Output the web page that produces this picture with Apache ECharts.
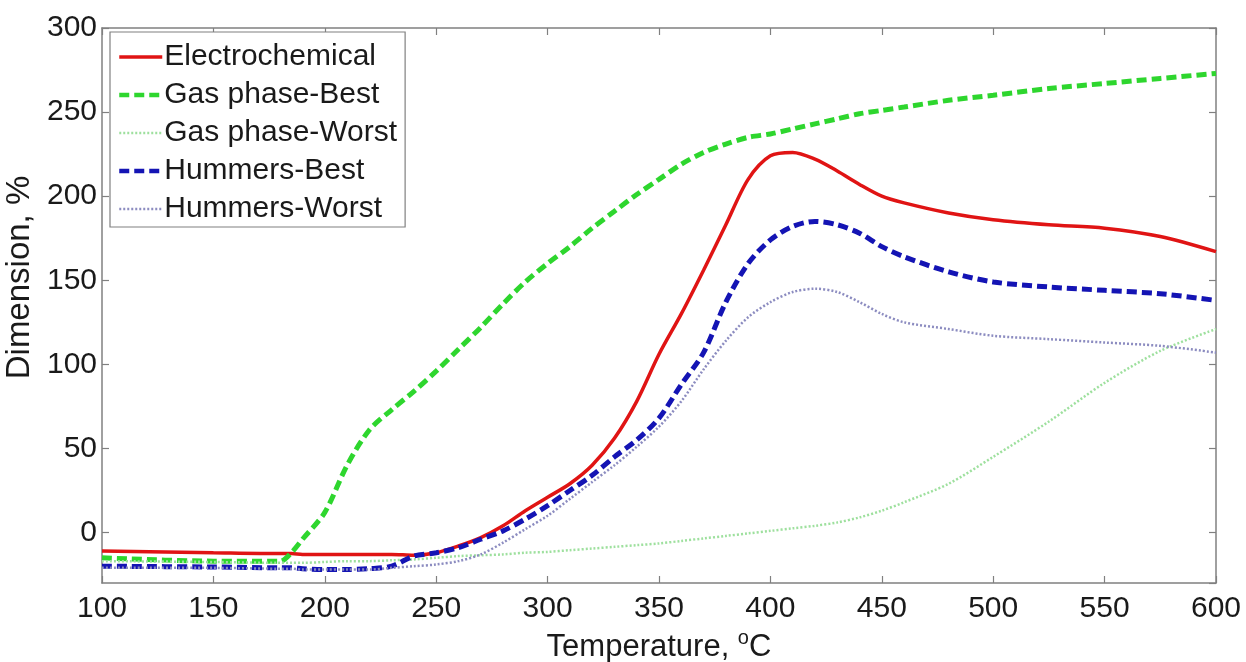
<!DOCTYPE html>
<html>
<head>
<meta charset="utf-8">
<script src="https://cdn.jsdelivr.net/npm/echarts@6/dist/echarts.min.js"></script>
<style>
  html, body { margin: 0; padding: 0; background: #fff; }
  #chart { width: 1246px; height: 662px; }
</style>
</head>
<body>
<div id="chart"></div>
<script>
// Temperature samples (°C) shared by every curve
const temps = [100,150,180,185,190,200,210,220,230,240,250,260,270,280,290,300,310,320,330,340,350,360,370,380,390,400,410,420,430,440,450,460,480,500,525,550,575,600];

// Dimension change (%) per sample
const electrochemical = [-11,-12,-12.5,-12.5,-13,-13,-13,-13,-13,-13.5,-12,-8,-3,4,13,21,29,40,56,78,106,130,156,183,210,224,226,222,215,207,200,196,190,186,183,181,176,167];
const gasBest = [-15,-17,-17,-12,-4,12,40,61,73,84,96,109,122,136,149,160,170,181,191,201,210,219,226,231,235,237,240,243,246,249,251,253,257,260,264,267,270,273];
const gasWorst = [-17,-17.5,-18,-18,-18,-17.5,-17,-17,-16.5,-16,-15,-14,-13.5,-13,-12,-11.5,-10.5,-9.5,-8.5,-7.5,-6.5,-5,-3.5,-2,-0.5,1,2.5,4,6,9,13,18,29,45,66,89,108,121];
const hummersBest = [-20,-20.5,-21,-21,-21.5,-22,-22,-21.5,-20,-14,-12,-9,-4,1,8,16,25,34,45,55,68,88,107,137,160,174,182,185,183,178,170,164,155,149,146,144,142,138];
const hummersWorst = [-21,-21,-21.5,-21.5,-22,-22,-22,-22,-21,-20,-19,-17,-13,-6,2,10,20,30,40,51,63,78,97,114,128,137,143,145,143,137,130,125,121,117,115,113,111,107];

const seriesNames = ['Electrochemical', 'Gas phase-Best', 'Gas phase-Worst', 'Hummers-Best', 'Hummers-Worst'];
const xTicks = { min: 100, max: 600, step: 50 };
const yRange = { min: -30, max: 300 };

const pairs = vals => temps.map((t, i) => [t, vals[i]]);

const FONT = 'Liberation Sans, Arial, sans-serif';
const FRAME = '#808080';
const TEXT = '#1a1a1a';

const styles = [
  { color: '#e01414', width: 3.5, type: 'solid' },
  { color: '#2ed62e', width: 5, type: [10, 5] },
  { color: '#9ee09e', width: 2.5, type: [2, 2] },
  { color: '#1414b4', width: 5, type: [10, 5] },
  { color: '#8c8cc0', width: 2.5, type: [2, 2] }
];

const dataSets = [electrochemical, gasBest, gasWorst, hummersBest, hummersWorst];

const chart = echarts.init(document.getElementById('chart'), null, { renderer: 'canvas' });

// Mirror axes on the top and right close the frame with inward ticks only
const mirrorAxis = {
  axisLine: { show: true, onZero: false, lineStyle: { color: FRAME, width: 1.5 } },
  axisTick: { show: true, inside: true, length: 7, lineStyle: { color: FRAME, width: 1.2 } },
  axisLabel: { show: false },
  splitLine: { show: false }
};

chart.setOption({
  animation: false,
  backgroundColor: '#ffffff',
  textStyle: { fontFamily: FONT },
  grid: { left: 102, right: 30, top: 28, bottom: 79, containLabel: false, outerBoundsMode: 'none' },
  legend: {
    orient: 'vertical',
    left: 110,
    top: 32,
    padding: [9, 8, 2, 7],
    itemGap: 6,
    itemWidth: 43,
    itemHeight: 14,
    backgroundColor: '#ffffff',
    borderColor: FRAME,
    borderWidth: 1.2,
    borderRadius: 0,
    itemStyle: { opacity: 0 },
    textStyle: { fontFamily: FONT, fontSize: 30, color: TEXT, lineHeight: 32, padding: [0, 0, 0, -3] },
    data: seriesNames.map((name, i) => ({
      name,
      lineStyle: { width: Math.min(styles[i].width, 4.5), type: styles[i].type, color: styles[i].color }
    }))
  },
  xAxis: [
    {
      type: 'value',
      position: 'bottom',
      min: xTicks.min,
      max: xTicks.max,
      interval: xTicks.step,
      name: 'Temperature, {sup|o}C',
      nameLocation: 'middle',
      nameGap: 45,
      nameTextStyle: {
        fontFamily: FONT, fontSize: 31, color: TEXT,
        rich: { sup: { fontFamily: FONT, fontSize: 20, color: TEXT, padding: [0, 0, 18, 0] } }
      },
      axisLine: { show: true, onZero: false, lineStyle: { color: FRAME, width: 1.5 } },
      axisTick: { show: true, inside: true, length: 7, lineStyle: { color: FRAME, width: 1.2 } },
      axisLabel: { fontFamily: FONT, fontSize: 30, color: TEXT, margin: 11 },
      splitLine: { show: false }
    },
    Object.assign({ type: 'value', position: 'top', min: xTicks.min, max: xTicks.max, interval: xTicks.step }, mirrorAxis)
  ],
  yAxis: [
    {
      type: 'value',
      position: 'left',
      min: yRange.min,
      max: yRange.max,
      splitNumber: 7,
      name: 'Dimension, %',
      nameLocation: 'middle',
      nameGap: 59,
      nameTextStyle: { fontFamily: FONT, fontSize: 33, color: TEXT, padding: [0, 0, 0, 56] },
      axisLine: { show: true, onZero: false, lineStyle: { color: FRAME, width: 1.5 } },
      axisTick: { show: true, inside: true, length: 7, lineStyle: { color: FRAME, width: 1.2 } },
      axisLabel: {
        fontFamily: FONT, fontSize: 30, color: TEXT, margin: 5,
        showMinLabel: false,
        formatter: v => (v % 50 === 0 ? String(v) : '')
      },
      splitLine: { show: false }
    },
    Object.assign({ type: 'value', position: 'right', min: yRange.min, max: yRange.max, splitNumber: 7 }, mirrorAxis)
  ],
  series: dataSets.map((vals, i) => ({
    name: seriesNames[i],
    type: 'line',
    xAxisIndex: 0,
    yAxisIndex: 0,
    data: pairs(vals),
    showSymbol: false,
    symbol: 'none',
    smooth: 0.3,
    color: styles[i].color,
    lineStyle: { color: styles[i].color, width: styles[i].width, type: styles[i].type, cap: 'butt' },
    z: 2 + i
  }))
});
</script>
</body>
</html>
